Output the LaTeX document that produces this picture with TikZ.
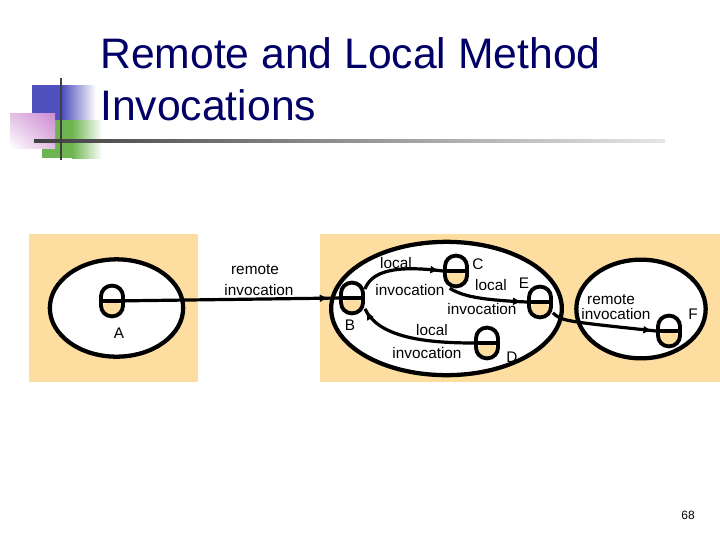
\documentclass[tikz,border=0pt]{standalone}
\usepackage{fontspec}
\setmainfont{Liberation Sans}
\usetikzlibrary{shapes.geometric,arrows.meta,decorations.markings,shadings}
\definecolor{orng}{RGB}{253,221,160}
\definecolor{navy}{RGB}{0,0,102}
\definecolor{sqblue}{RGB}{80,80,190}
\definecolor{sqgreen}{RGB}{110,180,80}
\definecolor{sqpink}{RGB}{205,140,210}
\begin{document}
\begin{tikzpicture}[x=0.75pt,y=-0.75pt,
  proc/.style={ellipse,draw,line width=3.2pt,fill=white,inner sep=0pt},
  obj/.style={rectangle,rounded corners=8pt,draw,line width=2.9pt,fill=white,
    minimum width=16.5pt,minimum height=23pt,inner sep=0pt,
    path picture={\fill[orng] (path picture bounding box.west) rectangle (path picture bounding box.south east);
      \draw[line width=2.9pt] (path picture bounding box.west) -- (path picture bounding box.east);}},
  lbl/.style={font=\fontsize{11.5}{13}\selectfont,inner sep=0pt},
  conn/.style={line width=2.4pt,postaction={decorate},
    decoration={markings,mark=at position #1 with {\arrow{Latex[length=6.5pt,width=6pt]}}}}]
\useasboundingbox (0,0) rectangle (720,540);
% decoration
\fill[sqblue] (32,85) rectangle (62,120);
\shade[left color=sqblue,right color=white] (62,85) rectangle (96,120);
\fill[sqgreen] (42,120) rectangle (72,158);
\shade[left color=sqgreen,right color=white] (72,120) rectangle (102,158);
\shade[upper right=sqpink,upper left=sqpink!55!white,lower left=white,lower right=sqpink!60!white] (10,113) rectangle (55,148);
\shade[left color=black!75,right color=black!10] (34,139.5) rectangle (665,142.5);
\draw[line width=2.2pt,black!75] (61,78) -- (61,160);
% title
\node[anchor=base west,text=navy,font=\fontsize{32}{36}\selectfont,inner sep=0pt] (t1) at (100,68) {Remote and Local Method};
\node[anchor=base west,text=navy,font=\fontsize{32}{36}\selectfont,inner sep=0pt] (t2) at (100,120) {Invocations};
% backgrounds
\fill[orng] (29,234) rectangle (198,382);
\fill[orng] (320,234) rectangle (720,382);
% processes
\node[proc,minimum width=100pt,minimum height=73pt] (pA) at (116.5,308) {};
\node[proc,minimum width=173pt,minimum height=100pt] (pB) at (446.5,308.5) {};
\node[proc,minimum width=97pt,minimum height=74pt] (pF) at (641,309) {};
% objects
\node[obj] (oA) at (112,301) {};
\node[obj] (oB) at (352,298) {};
\node[obj] (oC) at (456,271) {};
\node[obj] (oE) at (540,302) {};
\node[obj] (oD) at (487,343) {};
\node[obj] (oF) at (669,331) {};
% object labels
\node[lbl] (lA) at (119,333) {A};
\node[lbl] (lB) at (350,325) {B};
\node[lbl] (lC) at (478,264) {C};
\node[lbl] (lE) at (524,283) {E};
\node[lbl] (lD) at (512,357) {D};
\node[lbl] (lF) at (693,314) {F};
% connectors
\draw[conn=-8pt] (oA.center) -- (oB.west);
\draw[conn=-3pt] (oB.35) .. controls (372,271) and (395,265) .. (oC.west);
\draw[conn=-4pt] (oC.250) .. controls (462,296) and (480,300) .. (oE.west);
\draw[conn=-3pt] (oE.-40) .. controls (562,321) .. (oF.west);
\draw[conn=-2pt] (oD.west) .. controls (420,343) and (378,336) .. (oB.-40);
% connector labels
\node[lbl] (r1a) at (255,270) {remote};
\node[lbl] (r1b) at (259,290) {invocation};
\node[lbl] (l1a) at (396,263) {local};
\node[lbl] (l1b) at (410,290) {invocation};
\node[lbl] (l2a) at (491,285) {local};
\node[lbl] (l2b) at (482,309) {invocation};
\node[lbl] (l3a) at (432,330) {local};
\node[lbl] (l3b) at (427,353) {invocation};
\node[lbl] (r2a) at (611,300) {remote};
\node[lbl] (r2b) at (616,314) {invocation};
% page number
\node[font=\fontsize{9}{10}\selectfont,inner sep=0pt] (pg) at (688,515) {68};
\end{tikzpicture}
\end{document}
